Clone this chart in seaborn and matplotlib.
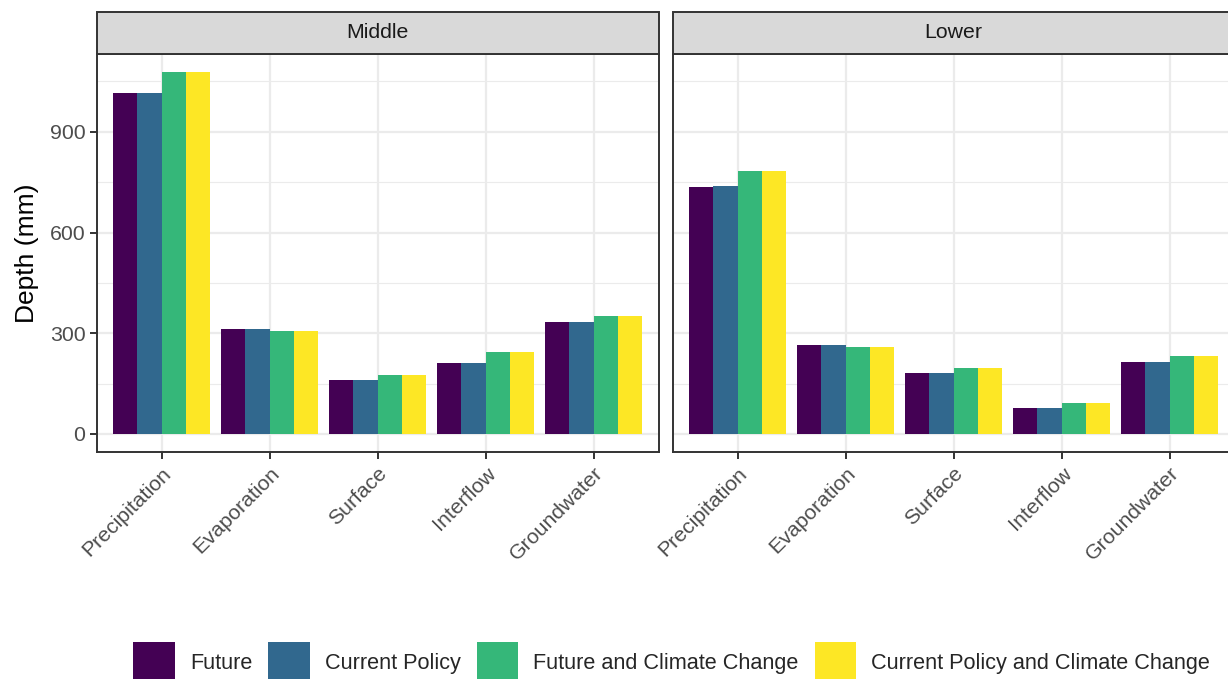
import pandas as pd
import matplotlib
matplotlib.use("Agg")
import matplotlib.pyplot as plt
from matplotlib.patches import Rectangle, Patch
from matplotlib.ticker import MultipleLocator, FixedLocator
import seaborn as sns

# Water balance components per region and scenario (depth in mm)
components = ["Precipitation", "Evaporation", "Surface", "Interflow", "Groundwater"]
scenarios = ["Future", "Current Policy", "Future and Climate Change",
             "Current Policy and Climate Change"]
regions = ["Middle", "Lower"]

middle_future = [1015, 312, 161, 210, 333]
middle_current = [1015, 312, 161, 210, 333]
middle_future_cc = [1078, 306, 175, 245, 350]
middle_current_cc = [1078, 306, 175, 245, 350]

lower_future = [735, 265, 182, 77, 215]
lower_current = [739, 265, 182, 77, 215]
lower_future_cc = [783, 259, 196, 93, 232]
lower_current_cc = [783, 259, 196, 93, 232]

y_ticks = [0, 300, 600, 900]
colors = ["#440154", "#31688E", "#35B779", "#FDE725"]

series = {
    "Middle": [middle_future, middle_current, middle_future_cc, middle_current_cc],
    "Lower": [lower_future, lower_current, lower_future_cc, lower_current_cc],
}
rows = []
for region in regions:
    for scen, vals in zip(scenarios, series[region]):
        for comp, v in zip(components, vals):
            rows.append({"region": region, "component": comp,
                         "scenario": scen, "depth": v})
df = pd.DataFrame(rows)

sns.set_theme(style="white")
plt.rcParams["font.family"] = ["Liberation Sans", "DejaVu Sans"]

W, H = 1228, 679
fig = plt.figure(figsize=(W / 100, H / 100), dpi=100)


def box(l, t, r, b):
    return [l / W, 1 - b / H, (r - l) / W, (b - t) / H]


ax1 = fig.add_axes(box(97, 54, 658.5, 452))
ax2 = fig.add_axes(box(673, 54, 1234.5, 452), sharey=ax1)

ymax = df["depth"].max()
ymin = 0
pad = 0.05 * (ymax - ymin)

border = "#333333"
grid_c = "#EBEBEB"
fs = 15.3
strip_h = 42 / 398

for ax, region in zip([ax1, ax2], regions):
    sns.barplot(data=df[df["region"] == region], x="component", y="depth",
                hue="scenario", order=components, hue_order=scenarios,
                palette=colors, saturation=1, width=0.9, gap=0,
                errorbar=None, linewidth=0, legend=False, ax=ax)
    ax.set_xlim(-0.6, len(components) - 0.4)
    ax.set_ylim(ymin - pad, ymax + pad)
    ax.yaxis.set_major_locator(FixedLocator(y_ticks))
    ax.yaxis.set_minor_locator(MultipleLocator(150))
    ax.set_axisbelow(True)
    ax.grid(True, which="major", color=grid_c, lw=1.6)
    ax.grid(True, which="minor", axis="y", color=grid_c, lw=0.8)
    ax.set_facecolor("white")
    for sp in ax.spines.values():
        sp.set_visible(True)
        sp.set_color(border)
        sp.set_linewidth(1.4)
    ax.tick_params(axis="both", which="major", length=4.7, width=1.4,
                   color=border, labelcolor="#4D4D4D", labelsize=fs, pad=3.7,
                   bottom=True, left=True)
    ax.tick_params(axis="both", which="minor", length=0)
    for lab in ax.get_xticklabels():
        lab.set_rotation(45)
        lab.set_ha("right")
        lab.set_va("top")
        lab.set_rotation_mode("anchor")
    ax.set_xlabel("")
    ax.set_ylabel("")
    # facet strip
    ax.add_patch(Rectangle((0, 1), 1, strip_h, transform=ax.transAxes,
                           facecolor="#D9D9D9", edgecolor=border, lw=1.4,
                           clip_on=False, zorder=5))
    ax.text(0.5, 1 + strip_h / 2, region, transform=ax.transAxes,
            ha="center", va="center", fontsize=fs, color="#1A1A1A", zorder=6)

ax2.tick_params(axis="y", which="both", left=False, labelleft=False)

ax1.set_ylabel("Depth (mm)", fontsize=19, color="black")
ax1.yaxis.set_label_coords(-0.103, 0.5)

handles = [Patch(facecolor=c, edgecolor="none") for c in colors]
fig.legend(handles, scenarios, loc="center",
           bbox_to_anchor=(0.547, 1 - 662 / H), ncol=4, frameon=False,
           fontsize=15.6, handlelength=1.9, handleheight=2.45,
           handletextpad=0.7, columnspacing=0.75, borderaxespad=0, borderpad=0)

fig.savefig("out.png", dpi=100)
